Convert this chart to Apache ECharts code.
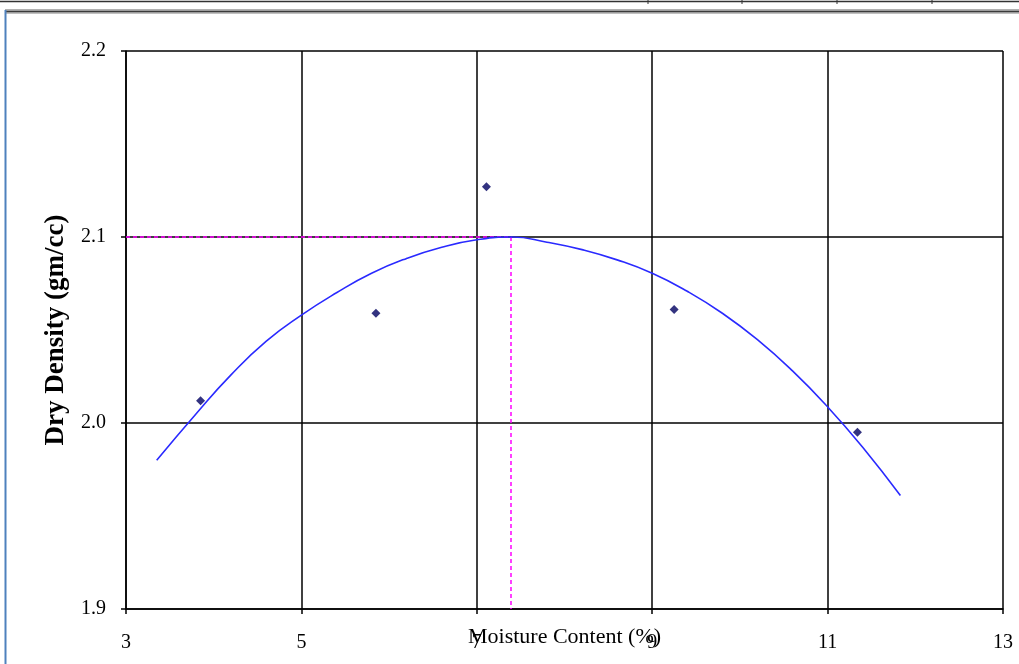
<!DOCTYPE html>
<html>
<head>
<meta charset="utf-8">
<title>Dry Density vs Moisture Content</title>
<script src="https://cdn.jsdelivr.net/npm/echarts@6/dist/echarts.min.js"></script>
<style>
  html, body { margin: 0; padding: 0; background: #ffffff; }
  #chart { width: 1019px; height: 664px; }
</style>
</head>
<body>
<div id="chart"></div>
<script>
// Compaction test results: moisture content (%) and dry density (gm/cc)
const testMoisture = [3.85, 5.85, 7.11, 9.25, 11.34];
const testDensity  = [2.012, 2.059, 2.127, 2.061, 1.995];

// Fitted compaction curve, sampled along its length
const curveMoisture = [3.35, 3.8, 4.2, 4.6, 5.0, 5.4, 5.8, 6.2, 6.6, 7.0, 7.4, 7.8, 8.2, 8.6, 9.0, 9.4, 9.8, 10.2, 10.6, 11.0, 11.4, 11.83];
const curveDensity  = [1.980, 2.005, 2.026, 2.044, 2.058, 2.070, 2.0805, 2.0885, 2.0945, 2.0985, 2.100, 2.0972, 2.0932, 2.0877, 2.0805, 2.0708, 2.0590, 2.0448, 2.0280, 2.0087, 1.9870, 1.9610];

// Optimum moisture content and maximum dry density
const optimumMoisture = 7.39;
const maxDryDensity = 2.10;

// Axis ranges and ticks
const xTicks = { min: 3, max: 13, step: 2 };
const yTicks = { min: 1.9, max: 2.2, step: 0.1 };

const chart = echarts.init(document.getElementById('chart'), null, { renderer: 'canvas' });

const serif = '"Liberation Serif", "DejaVu Serif", serif';

const option = {
  backgroundColor: '#ffffff',
  animation: false,
  grid: { left: 126, right: 16, top: 51, bottom: 55, containLabel: false, outerBoundsMode: 'none' },
  xAxis: {
    type: 'value',
    min: xTicks.min,
    max: xTicks.max,
    interval: xTicks.step,
    name: 'Moisture Content (%)',
    nameLocation: 'middle',
    nameGap: 17,
    nameMoveOverlap: false,
    nameTextStyle: { fontFamily: serif, fontSize: 22, color: '#000000' },
    axisLine: { show: true, lineStyle: { color: '#000000', width: 1.5 } },
    axisTick: { show: true, inside: false, length: 5, lineStyle: { color: '#000000', width: 1.5 } },
    axisLabel: { margin: 24, fontFamily: serif, fontSize: 20, color: '#000000' },
    splitLine: { show: true, lineStyle: { color: '#000000', width: 1.5 } }
  },
  yAxis: {
    type: 'value',
    min: yTicks.min,
    max: yTicks.max,
    interval: yTicks.step,
    name: 'Dry Density (gm/cc)',
    nameLocation: 'middle',
    nameGap: 56,
    nameMoveOverlap: false,
    nameTextStyle: { fontFamily: serif, fontSize: 27, fontWeight: 'bold', color: '#000000' },
    axisLine: { show: true, lineStyle: { color: '#000000', width: 1.5 } },
    axisTick: { show: true, inside: false, length: 5, lineStyle: { color: '#000000', width: 1.5 } },
    axisLabel: {
      margin: 20,
      fontFamily: serif,
      fontSize: 20,
      color: '#000000',
      formatter: v => v.toFixed(1)
    },
    splitLine: { show: true, lineStyle: { color: '#000000', width: 1.5 } }
  },
  series: [
    {
      name: 'Optimum',
      type: 'line',
      data: [[xTicks.min, maxDryDensity], [optimumMoisture, maxDryDensity], [optimumMoisture, yTicks.min]],
      symbol: 'none',
      lineStyle: { color: '#ff00ff', width: 1.5, type: [4, 3] },
      z: 3
    },
    {
      name: 'Compaction curve',
      type: 'line',
      data: curveMoisture.map((m, i) => [m, curveDensity[i]]),
      smooth: true,
      symbol: 'none',
      lineStyle: { color: '#2a2aff', width: 1.6 },
      z: 4
    },
    {
      name: 'Test results',
      type: 'scatter',
      data: testMoisture.map((m, i) => [m, testDensity[i]]),
      symbol: 'diamond',
      symbolSize: 9,
      itemStyle: { color: '#000060' },
      z: 5
    }
  ],
  graphic: [
    // page frame around the chart
    { type: 'line', shape: { x1: 0, y1: 1.5, x2: 1019, y2: 1.5 }, style: { stroke: '#333333', lineWidth: 1.5 } },
    { type: 'line', shape: { x1: 648, y1: 0, x2: 648, y2: 4 }, style: { stroke: '#333333', lineWidth: 1 } },
    { type: 'line', shape: { x1: 742, y1: 0, x2: 742, y2: 4 }, style: { stroke: '#333333', lineWidth: 1 } },
    { type: 'line', shape: { x1: 837, y1: 0, x2: 837, y2: 4 }, style: { stroke: '#333333', lineWidth: 1 } },
    { type: 'line', shape: { x1: 932, y1: 0, x2: 932, y2: 4 }, style: { stroke: '#333333', lineWidth: 1 } },
    { type: 'line', shape: { x1: 5, y1: 9.5, x2: 1019, y2: 9.5 }, style: { stroke: '#b0b0b0', lineWidth: 1 } },
    { type: 'line', shape: { x1: 5, y1: 11.5, x2: 1019, y2: 11.5 }, style: { stroke: '#3a3a3a', lineWidth: 2 } },
    { type: 'line', shape: { x1: 5, y1: 13.5, x2: 1019, y2: 13.5 }, style: { stroke: '#c0c0c0', lineWidth: 1 } },
    { type: 'line', shape: { x1: 5.5, y1: 10, x2: 5.5, y2: 664 }, style: { stroke: '#4f81bd', lineWidth: 2 } }
  ]
};

chart.setOption(option);
</script>
</body>
</html>
